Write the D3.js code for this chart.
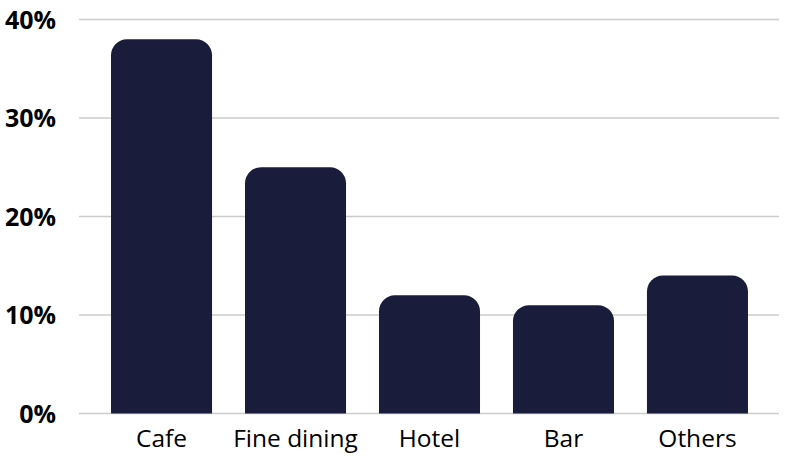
<!DOCTYPE html>
<html><head><meta charset="utf-8">
<script src="https://cdn.jsdelivr.net/npm/d3@7"></script>
<style>
html,body{margin:0;padding:0;background:#fff;}
svg{display:block;}
</style></head>
<body>
<svg id="chart" width="800" height="458"></svg>
<script>
const categories = ["Cafe", "Fine dining", "Hotel", "Bar", "Others"];
const values = [38, 25, 12, 11, 14];
const yTicks = [0, 10, 20, 30, 40];

const svg = d3.select("#chart");
const x = d3.scaleBand().domain(categories).range([81, 778]).paddingInner(0.246).paddingOuter(0.224);
const y = d3.scaleLinear().domain([0, 40]).range([413.5, 19.5]);

// gridlines
svg.append("g").selectAll("line").data(yTicks).join("line")
  .attr("x1", 79).attr("x2", 779)
  .attr("y1", d => y(d)).attr("y2", d => y(d))
  .attr("stroke", "#cccccc").attr("stroke-width", 1.5);

// y labels
svg.append("g").selectAll("text").data(yTicks).join("text")
  .attr("x", 56).attr("y", d => y(d)).attr("dy", "0.36em")
  .attr("text-anchor", "end")
  .attr("font-family", "'Open Sans', sans-serif")
  .attr("font-weight", 700).attr("font-size", 25).attr("fill", "#000")
  .text(d => d + "%");

// bars with rounded top corners
const r = 16;
function barPath(d, i) {
  const x0 = x(d), w = x.bandwidth();
  const yt = y(values[i]), yb = y(0);
  const rr = Math.min(r, (yb - yt), w / 2);
  return `M${x0},${yb}V${yt + rr}A${rr},${rr} 0 0 1 ${x0 + rr},${yt}H${x0 + w - rr}A${rr},${rr} 0 0 1 ${x0 + w},${yt + rr}V${yb}Z`;
}
svg.append("g").selectAll("path").data(categories).join("path")
  .attr("d", barPath).attr("fill", "#1a1c3c");

// x labels
svg.append("g").selectAll("text").data(categories).join("text")
  .attr("x", d => x(d) + x.bandwidth() / 2).attr("y", 446.5)
  .attr("text-anchor", "middle")
  .attr("font-family", "'Open Sans', sans-serif")
  .attr("font-size", 24.5).attr("fill", "#000")
  .text(d => d);
</script>
</body></html>
